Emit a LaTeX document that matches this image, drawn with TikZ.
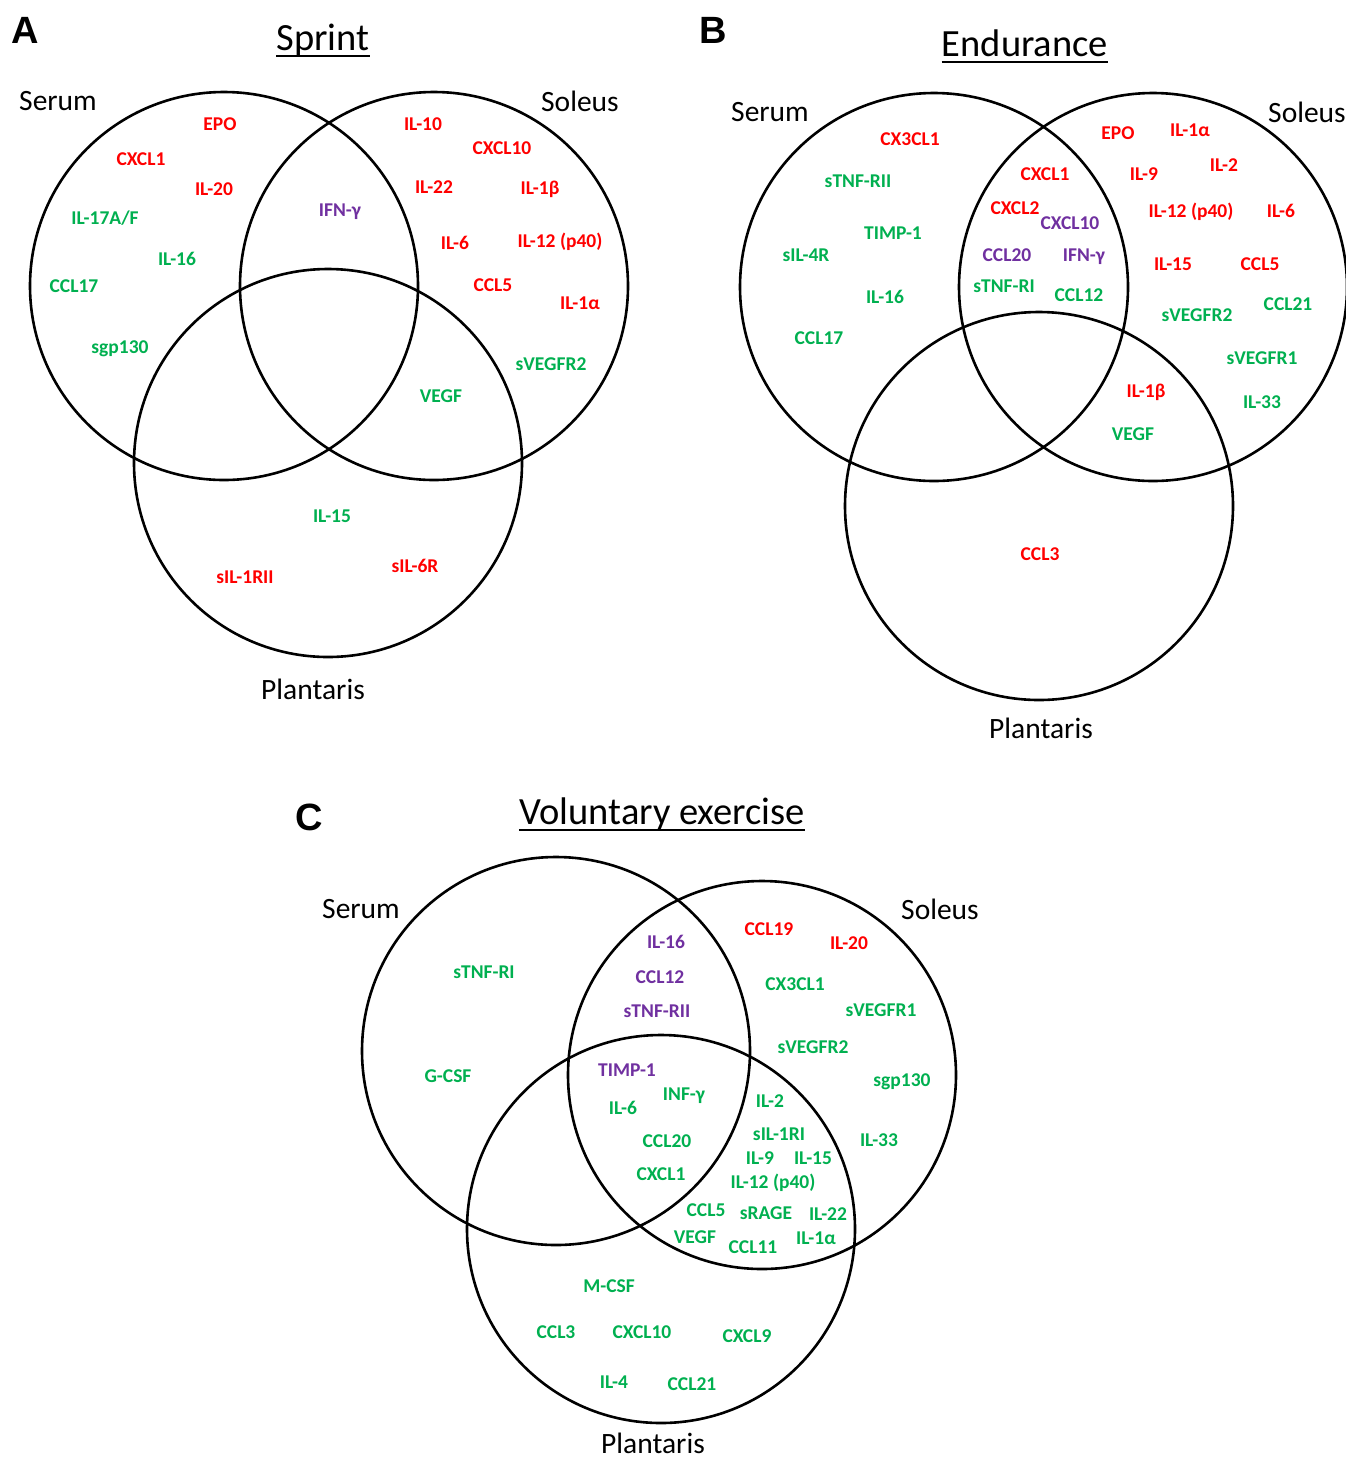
\documentclass[tikz,border=0pt]{standalone}
\usepackage{fontspec}
\setmainfont{Carlito}
\newfontfamily\arialf{Liberation Sans}
\definecolor{vred}{HTML}{FF0000}
\definecolor{vgreen}{HTML}{00B050}
\definecolor{vpurple}{HTML}{7030A0}
\tikzset{
  vc/.style={circle,draw=black,line width=2.6pt,minimum size=388pt,inner sep=0pt},
  lab/.style={inner sep=0pt,font=\fontsize{19.5}{21}\selectfont\bfseries},
  rd/.style={lab,text=vred},
  gr/.style={lab,text=vgreen},
  pu/.style={lab,text=vpurple},
  setname/.style={inner sep=0pt,font=\fontsize{29.5}{32}\selectfont},
  ttl/.style={inner sep=0pt,font=\fontsize{38.5}{41}\selectfont},
  panel/.style={inner sep=0pt,font=\fontsize{38}{40}\selectfont\arialf\bfseries},
  uline/.style={line width=2.2pt}
}
\begin{document}
\begin{tikzpicture}[x=1pt,y=-1pt]
\useasboundingbox (0,0) rectangle (1345,1460);
\fill[white] (0,0) rectangle (1345,1460);

% ---------------- Panel A ----------------
\node[panel] (pA) at (25,30) {A};
\node[ttl] (tA) at (323,40) {Sprint};
\draw[uline] ([yshift=-6pt]tA.base west) -- ([yshift=-6pt]tA.base east);
\node[vc] (aSer) at (224,286) {};
\node[vc] (aSol) at (434,286) {};
\node[vc] (aPla) at (328,463) {};
\node[setname] (aSerL) at (58,101) {Serum};
\node[setname] (aSolL) at (580,101) {Soleus};
\node[setname] (aPlaL) at (313,689) {Plantaris};
\node[rd] (a1) at (220,124) {EPO};
\node[rd] (a2) at (141,159) {CXCL1};
\node[rd] (a3) at (214,189) {IL-20};
\node[gr] (a4) at (105,218) {IL-17A/F};
\node[gr] (a5) at (177,259) {IL-16};
\node[gr] (a6) at (74,286) {CCL17};
\node[gr] (a7) at (120,349) {sgp130};
\node[pu] (a8) at (340,212) {IFN-γ};
\node[rd] (a9) at (423,124) {IL-10};
\node[rd] (a10) at (502,148) {CXCL10};
\node[rd] (a11) at (434,187) {IL-22};
\node[rd] (a12) at (540,189) {IL-1β};
\node[rd] (a13) at (455,243) {IL-6};
\node[rd] (a14) at (560,242) {IL-12 (p40)};
\node[rd] (a15) at (493,285) {CCL5};
\node[rd] (a16) at (580,303) {IL-1α};
\node[gr] (a17) at (551,364) {sVEGFR2};
\node[gr] (a18) at (441,396) {VEGF};
\node[gr] (a19) at (332,516) {IL-15};
\node[rd] (a20) at (245,577) {sIL-1RII};
\node[rd] (a21) at (415,566) {sIL-6R};

% ---------------- Panel B ----------------
\node[panel] (pB) at (713,30) {B};
\node[ttl] (tB) at (1025,43) {Endurance};
\draw[uline] ([yshift=-6pt]tB.base west) -- ([yshift=-6pt]tB.base east);
\node[vc] (bSer) at (934,287) {};
\node[vc] (bSol) at (1153,287) {};
\node[vc] (bPla) at (1039,506) {};
\node[setname] (bSerL) at (770,112) {Serum};
\node[setname] (bSolL) at (1307,112) {Soleus};
\node[setname] (bPlaL) at (1041,728) {Plantaris};
\node[rd] (b1) at (910,139) {CX3CL1};
\node[gr] (b2) at (858,181) {sTNF-RII};
\node[gr] (b3) at (893,233) {TIMP-1};
\node[gr] (b4) at (806,255) {sIL-4R};
\node[gr] (b5) at (885,297) {IL-16};
\node[gr] (b6) at (819,338) {CCL17};
\node[rd] (b7) at (1045,174) {CXCL1};
\node[rd] (b8) at (1015,208) {CXCL2};
\node[pu] (b9) at (1070,223) {CXCL10};
\node[pu] (b10) at (1007,255) {CCL20};
\node[pu] (b11) at (1084,257) {IFN-γ};
\node[gr] (b12) at (1004,286) {sTNF-RI};
\node[gr] (b13) at (1079,295) {CCL12};
\node[rd] (b14) at (1118,133) {EPO};
\node[rd] (b15) at (1190,130) {IL-1α};
\node[rd] (b16) at (1144,174) {IL-9};
\node[rd] (b17) at (1224,165) {IL-2};
\node[rd] (b18) at (1191,212) {IL-12 (p40)};
\node[rd] (b19) at (1281,211) {IL-6};
\node[rd] (b20) at (1173,264) {IL-15};
\node[rd] (b21) at (1260,264) {CCL5};
\node[gr] (b22) at (1197,315) {sVEGFR2};
\node[gr] (b23) at (1288,304) {CCL21};
\node[gr] (b24) at (1262,358) {sVEGFR1};
\node[gr] (b25) at (1262,402) {IL-33};
\node[rd] (b26) at (1146,392) {IL-1β};
\node[gr] (b27) at (1133,434) {VEGF};
\node[rd] (b28) at (1040,554) {CCL3};

% ---------------- Panel C ----------------
\node[panel] (pC) at (309,817) {C};
\node[ttl] (tC) at (662,814) {Voluntary exercise};
\draw[uline] ([yshift=-6pt]tC.base west) -- ([yshift=-6pt]tC.base east);
\node[vc] (cSer) at (556,1051) {};
\node[vc] (cSol) at (762,1075) {};
\node[vc] (cPla) at (661,1229) {};
\node[setname] (cSerL) at (361,909) {Serum};
\node[setname] (cSolL) at (940,909) {Soleus};
\node[setname] (cPlaL) at (653,1443) {Plantaris};
\node[gr] (c1) at (484,972) {sTNF-RI};
\node[gr] (c2) at (448,1076) {G-CSF};
\node[pu] (c3) at (666,942) {IL-16};
\node[pu] (c4) at (660,977) {CCL12};
\node[pu] (c5) at (657,1011) {sTNF-RII};
\node[pu] (c6) at (627,1070) {TIMP-1};
\node[gr] (c7) at (684,1096) {INF-γ};
\node[gr] (c8) at (623,1108) {IL-6};
\node[gr] (c9) at (667,1141) {CCL20};
\node[gr] (c10) at (661,1174) {CXCL1};
\node[rd] (c11) at (769,929) {CCL19};
\node[rd] (c12) at (849,943) {IL-20};
\node[gr] (c13) at (795,984) {CX3CL1};
\node[gr] (c14) at (881,1010) {sVEGFR1};
\node[gr] (c15) at (813,1047) {sVEGFR2};
\node[gr] (c16) at (902,1082) {sgp130};
\node[gr] (c17) at (879,1140) {IL-33};
\node[gr] (c18) at (770,1101) {IL-2};
\node[gr] (c19) at (779,1134) {sIL-1RI};
\node[gr] (c20) at (760,1158) {IL-9};
\node[gr] (c21) at (813,1158) {IL-15};
\node[gr] (c22) at (773,1183) {IL-12 (p40)};
\node[gr] (c23) at (706,1210) {CCL5};
\node[gr] (c24) at (766,1213) {sRAGE};
\node[gr] (c25) at (828,1214) {IL-22};
\node[gr] (c26) at (695,1237) {VEGF};
\node[gr] (c27) at (753,1247) {CCL11};
\node[gr] (c28) at (816,1238) {IL-1α};
\node[gr] (c29) at (609,1286) {M-CSF};
\node[gr] (c30) at (556,1332) {CCL3};
\node[gr] (c31) at (642,1332) {CXCL10};
\node[gr] (c32) at (747,1336) {CXCL9};
\node[gr] (c33) at (614,1382) {IL-4};
\node[gr] (c34) at (692,1384) {CCL21};
\end{tikzpicture}
\end{document}
